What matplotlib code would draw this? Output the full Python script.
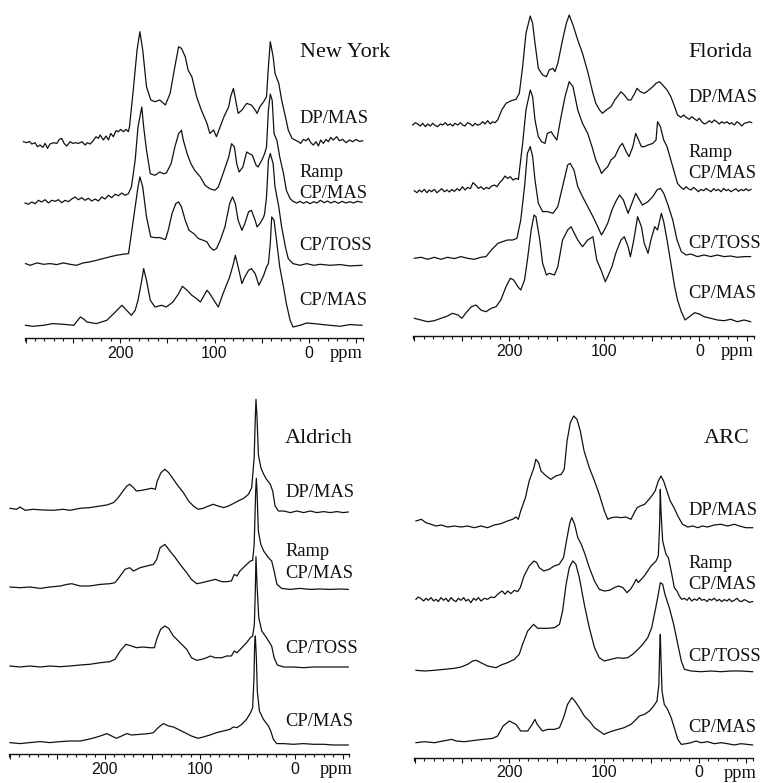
import matplotlib.pyplot as plt
from matplotlib.ticker import FixedLocator, FixedFormatter

# 13C NMR spectra of four humic acids, four pulse sequences each.
# Each trace: chemical shift (ppm) and height above its own baseline.

NY_DP_PPM = [302.3, 298.7, 295.9, 293.4, 289.9, 287.4, 284.6, 281.7, 279.3, 276.8, 274.1, 270.5, 267.0, 264.2, 261.7, 259.2,
             256.4, 252.9, 249.8, 247.4, 243.9, 240.4, 236.8, 234.6, 231.7, 228.9, 225.4, 222.9, 221.1, 217.6, 214.8, 212.3,
             209.8, 207.1, 204.3, 201.8, 199.3, 196.5, 193.6, 191.2,
             190, 186, 182, 179, 176, 172, 167.5, 163, 158, 152, 147, 142, 138, 135, 131, 128, 124, 119, 114, 108,
             105, 101, 98, 94, 90, 85, 83, 80, 78, 75, 71, 66, 61, 57, 55, 52, 48, 47, 45, 43, 41, 38, 36, 32, 29, 25, 22, 18,
             14.8, 11.3, 8.8, 6, 3.2, 0.7, -1.8, -4.6, -7.4, -9.9, -12.3, -15.2, -18, -20.5, -22.9, -25.7, -29.3, -32.1,
             -35.6, -39.2, -42.7, -46.2, -49.7, -53.3, -56.8]
NY_DP_INT = [0, -1, 0.3, -2.3, -1, -5, -3.3, -5.7, -1.7, -6.7, -2.3, -1, -1.7, 2.3, 3.3, -1.7,
             -4.3, 0, -1.7, -1, -1.7, 0, -3.3, -1, -2.3, 0.3, 5, 3.3, 6.7, 1.7, 5.7, 1.7,
             8.3, 5, 11, 10, 12.3, 10, 12.3, 10,
             15, 51.7, 91.7, 110, 91.7, 55, 41.7, 40, 41.7, 36.7, 48.3, 75, 95, 93.3, 85, 71.7, 65, 45, 31.7, 18.3,
             8.3, 11.7, 5, 15, 25, 35, 45, 53.3, 43.3, 28.3, 31.7, 38.3, 36.7, 31.7, 28.3, 35, 40, 41.7, 45, 75, 100, 85, 68.3,
             58.3, 41.7, 25, 11.7, 3.3,
             1.7, 0, -1.7, 2.3, 1, 3.3, -1, -3.3, 0, -4.3, 1.7, -1.7, 2.3, 0, 4.3, 1.7, 5, 1,
             2.3, -1, 1.7, 0, 2.3, 0.3, 1]

NY_RAMP_PPM = [300.5, 297, 293.4, 289.9, 286.4, 282.9, 279.3, 275.8, 272.3, 268.8, 265.2, 261.7, 258.2, 254.6, 251.1, 247.6,
               244.1, 240.5, 237, 233.5, 230, 226.4, 222.9, 219.4, 215.9, 212.3, 208.8, 205.3, 201.7, 198.2, 194.7, 191.2,
               188, 184, 181, 177, 175, 172, 168, 163, 158, 154, 151, 146, 142, 138, 135, 133, 129, 125, 121, 115,
               110, 105, 99.5, 96, 91, 85, 82, 79, 76.5, 74, 70, 66, 63, 60, 56, 54, 50, 47, 45, 43, 41, 39, 37, 34,
               31, 27, 24, 20, 17,
               13, 9.5, 6, 2.5, -1, -5, -8.5, -12, -16, -19.5, -23, -27, -31, -35, -39, -43, -47, -51, -56]
NY_RAMP_INT = [-1, -2.3, 0, -1.7, 1.7, 0, 2.3, -1, 1.7, 0.7, 2.3, -0.7, 1.7, 0.3, 3, 5,
               2.3, 4.3, 1.7, 3.7, 1, 3, 1, 5, 3, 6.7, 4.3, 7.7, 6.3, 9, 6.7, 8.3,
               15, 41.7, 75, 95, 75, 51.7, 28.3, 26.7, 30, 28.3, 29, 38.3, 55, 68.3, 71.7, 61.7, 48.3, 38.3, 31.7, 25,
               16.7, 13.3, 11.7, 15, 28.3, 45, 58.3, 55, 38.3, 30, 35, 50, 48.3, 46.7, 36.7, 35, 41.7, 48.3, 55, 91.7, 108,
               101.7, 68.3, 61.7, 45, 28.3, 11.7, 3.3, 0.7,
               -1, 0.7, -1.3, 0.3, -1.7, 0.3, -1, 1.7, -0.7, 1, -1, 0.7, -1.3, 0.7, -1, 0.3, -1, 0.7, -0.3]

NY_TOSS_PPM = [300, 295, 288, 281, 274, 267, 260, 253, 246, 239, 232, 225, 218, 211, 204, 197, 191, 188, 184, 181,
               179, 176, 172, 167.5, 163, 158, 152, 149, 145, 141, 138, 135, 131, 127, 122, 117, 112, 108, 105, 101,
               98, 94, 89, 84, 81, 78, 75, 71, 68, 64, 61, 57, 55, 52, 48, 47, 45, 43, 41, 38,
               36, 32, 29, 25, 22, 17, 9.5, 2.5, -5, -12, -22, -33, -43, -56]
NY_TOSS_INT = [0, -1.7, 0.7, -0.7, 0, -1, 0.7, -0.7, -1.7, 0.7, 1.7, 3.3, 5, 6.7, 8.3, 9.3, 10, 30, 56.7, 76.7,
               86.7, 76.7, 46.7, 26.7, 26, 26, 24, 33.3, 50, 60, 61.7, 56.7, 43.3, 33.3, 30, 25, 23.3, 21.7, 16.7, 13.3,
               15, 23.3, 36.7, 60, 66.7, 60, 43.3, 33.3, 40, 51.7, 53.3, 43.3, 36.7, 40, 46.7, 50, 66.7, 103.3, 110, 100,
               76.7, 56.7, 36.7, 16.7, 5, 0, -1.7, 0, -1.7, -0.7, -1.7, -1, -2.3, -1.7]

NY_CPMAS_PPM = [300, 292, 281, 271, 260, 249, 242, 239, 235, 225, 214, 205, 198, 193, 188, 184, 181, 177, 175, 172,
                168, 163, 156, 151, 144, 138, 134, 129, 124, 119, 115, 112, 108, 105, 99.5, 96, 91, 84, 80, 78,
                75, 71, 68, 64, 61, 57, 53, 48, 45, 43, 41, 39.5, 37, 34, 31, 27, 24, 20, 17, 9.5,
                2.5, -5, -12, -22, -33, -43, -56]
NY_CPMAS_INT = [0, -1, 0, 1.7, 1, 0, 8.3, 6.7, 3.3, 1.7, 5, 13.3, 20, 15, 10, 15, 25, 45, 56.7, 45,
                25, 18.3, 20, 18.3, 23.3, 31.7, 39, 35, 30, 26.7, 23.3, 28.3, 35, 31.7, 23.3, 18.3, 31.7, 48.3, 61.7, 70,
                58.3, 41.7, 48.3, 55, 56.7, 51.7, 40, 50, 58.3, 61.7, 81.7, 108.3, 105, 81.7, 58.3, 38.3, 21.7, 5, -1.7, 0,
                2.3, 1.7, 1, 0, -1, 0.7, 0]

FL_DP_PPM = [301.8, 299, 296.5, 293.7, 291.2, 288.4, 286, 283.2, 280.7, 278.3, 275.5, 272.6, 270.2, 267.4, 264.9, 262.1,
             259.7, 257.2, 254.4, 251.6, 249.1, 246.7, 243.9, 241.1, 238.6, 236.2, 233.3, 230.5, 228.1, 225.6, 222.8, 220,
             217.6, 215.1, 212.3,
             208, 203.5, 198, 193, 189.5, 186, 182.5, 178, 175.5, 173, 169.5, 165, 161, 158, 154, 152, 149, 144, 140, 137,
             133, 128, 123, 117.5, 112, 109, 105, 102, 98, 93, 89, 85, 82.5, 79, 75, 72, 68, 65.6, 62, 58,
             54, 49, 45.6, 42, 38.6, 34, 30, 26, 23,
             19.3, 16.5, 14, 10.5, 8.1, 5.3, 2.5, 0, -2.5, -5.3, -8.1, -10.5, -13, -15.8, -18.6, -21.1, -23.5, -26.3,
             -29.1, -31.6, -34, -36.8, -39.7, -42.1, -44.6, -47.4, -50.2, -52.6, -55.1]
FL_DP_INT = [-1, 1.3, 0, -2, 0.7, -2.7, 0, -2, 0.7, -1.3, -2.7, 0, -1, 1.3, -1.3, 0,
             -2, 0.7, -1, 1.3, -1, -2, 1.3, 0, -2, 0.7, -1.3, 0, 2.3, 0, 3.3, 0,
             2.3, 1.3, 4,
             14, 20.7, 23.3, 24.7, 30.7, 57.3, 90.7, 108, 100.7, 80.7, 55.7, 49, 47.3, 54, 55.7, 52.3, 60.7, 84, 100.7, 109,
             99, 84, 70.7, 52.3, 30.7, 20.7, 14, 10.7, 14, 17.3, 24, 29, 32.3, 29, 24, 24, 30.7, 35.7, 32.3, 30.7,
             33.3, 37.3, 40.7, 42.3, 39, 34, 27.3, 17.3, 9,
             6.7, 9, 6.7, 4.7, 7.3, 5.3, 3.3, 5.7, 2.3, 0, 1.3, 3.3, 1.3, 4, 2, 0, 2.3, 0.7,
             2.3, 0, 1.3, -1, 2.3, 0.7, -2, 0.7, 1.3, 2.3, 1.3]

FL_RAMP_PPM = [300, 297.2, 294.8, 292.4, 289.5, 286.7, 284.2, 281.8, 279, 276.2, 273.7, 271.2, 268.4, 265.6, 263.1, 260.6,
               257.9, 255, 252.3, 249.5, 246.7, 243.9, 241.1, 238.3, 235.5, 232.6, 229.8, 227, 224.2, 221.4, 218.6, 215.8,
               213, 210.2, 207.4, 204.6, 201.8, 199, 196.2, 193, 190.5,
               186, 182.5, 178, 175.5, 173, 169.5, 166, 162.5, 160, 156, 152.6, 150, 145.6, 141.4, 137, 133, 128, 123, 117.5, 113,
               109, 105, 103, 100, 96.5, 93, 89, 84, 81, 77, 74, 70, 67, 64, 61, 58, 54, 49, 45.6, 44, 41, 37.5, 34, 30, 26, 23,
               19.3, 16.5, 14, 11.6, 8.8, 6, 3.5, 1.1, -1.8, -4.6, -7, -9.5, -12.3, -15.1, -17.5, -20, -22.8, -25.6,
               -28.1, -30.5, -33.3, -36.1, -38.6, -41.1, -43.9, -46.7, -49.1, -51.6, -54.4]
FL_RAMP_INT = [0, -2, 0.7, -1.3, 1.3, -2, 0.7, -1, 1.3, -2, 0, 2, -1, 0.7, -1.3, 1.3,
               -0.7, 2, 0, 4, 0.7, 3.3, 2, 8, 5.7, 2.3, 4, 1.3, 3.3, 2, 4.7, 5.7,
               4, 8, 10.7, 14.7, 12.3, 14, 10.7, 12.3, 11.3,
               47.3, 80.7, 100.7, 94, 70.7, 54, 49, 47.3, 57.3, 59, 54, 50.7, 74, 94, 109, 104, 80.7, 67.3, 57.3, 44,
               30.7, 22.3, 17.3, 20.7, 24, 30.7, 34, 44, 47.3, 39, 34, 44, 57.3, 50.7, 44, 44, 45.7, 47.3, 50.7, 69, 64, 50.7,
               44, 30.7, 17.3, 7.3,
               3.3, 1.3, 4, 2, 0.7, 3.3, 1.3, -1, 1.3, 0, 2.3, 0.7, -1, 2, 0, 1.3, -1, 2.3,
               0, 1.3, -1, 0.7, 2, -0.7, 1.3, 0, 2, 0, 1.3]

FL_TOSS_PPM = [300, 293, 286, 279, 272, 265, 258, 251, 244, 237, 230, 224.6, 219, 212, 207, 202, 196.5, 192, 188, 184,
               181, 178, 175.5, 173, 169.5, 165, 160, 154, 149, 144, 138.6, 136, 132, 128, 123, 117.5, 112, 107, 103, 100,
               96.5, 92, 88, 84, 80, 75, 71, 67, 63, 60, 54, 49, 44.6, 41, 37.5, 33, 28, 23.5, 19, 14,
               9, 2, -5, -12, -19, -26, -33, -40, -47, -54]
FL_TOSS_INT = [0, 1, -1, 1, -1, 1, -0.3, 1.7, 0, -1, 1, 1.7, 8.3, 15, 16.7, 18.3, 18.3, 20, 38.3, 71.7,
               105, 111.7, 101.7, 78.3, 55, 46.7, 46.7, 45, 51.7, 71.7, 93.3, 95, 88.3, 71.7, 61.7, 51.7, 41.7, 31.7, 23.3, 28.3,
               35, 48.3, 56.7, 63.3, 58.3, 45, 55, 65, 58.3, 53.3, 56.7, 61.7, 68.3, 70, 65, 53.3, 38.3, 18.3, 6.7, 3.3,
               4.3, 1.7, 3.3, 1.7, 3.3, 1.7, 2.3, 1, 1.7, 1.7]

FL_CPMAS_PPM = [300, 293, 286, 279, 272, 265, 260, 254, 250, 246, 240, 235, 230, 224.6, 219, 214, 209, 203.5, 199, 195.5,
                191, 188, 184, 181, 177, 174, 172, 168, 165, 161, 158, 152.6, 149, 144, 138.6, 135, 131.6, 128, 123, 117.5,
                112, 108, 103.5, 99, 96.5, 92, 88, 82.5, 79, 75, 72.6, 69, 65, 61, 58, 54, 51, 47, 44, 40,
                37.5, 34, 30, 26, 23, 19, 15, 10.5, 5, 0, -5, -12, -19, -26, -33, -40, -47, -54]
FL_CPMAS_INT = [1.7, 0, -1.7, -0.7, 1.7, 4, 6.7, 5, 1.7, 6.7, 13.3, 15, 10, 8.3, 11.7, 13.3, 20, 33.3, 41.7, 40,
                33.3, 30, 40, 60, 90, 105, 103.3, 80, 56.7, 45, 46.7, 45, 53.3, 80, 90, 93.3, 86.7, 80, 73.3, 80,
                83.3, 60, 50, 38.3, 43.3, 53.3, 66.7, 80, 83.3, 73.3, 63.3, 80, 103.3, 93.3, 76.7, 66.7, 80, 93.3, 90, 106.7,
                98.3, 80, 56.7, 33.3, 20, 8.3, 0, 3.3, 7.3, 6, 3.3, 1.7, 0, -0.7, 0.7, -1.7, 0, -1.7]

AL_DP_PPM = [300, 293, 289.5, 284, 275.5, 265, 254, 244, 237, 226, 216, 205, 198, 191, 186, 181, 177, 174, 170, 167,
             161, 156, 151, 147, 145, 141, 137, 133, 128, 123, 117.5, 112, 107, 102, 96.5, 91, 86, 81, 75, 70,
             65, 60, 54, 49, 45.6, 43, 41.8, 41.1, 40, 38.6, 36, 33, 30, 26, 23.5, 21, 17.5, 12, 5, -2,
             -9, -16, -23, -30, -37, -44, -51, -56]
AL_DP_INT = [1, 0, 2.3, -1, 0, -0.7, -1, 0, -1, 1, 1.7, 3.3, 4.3, 6.7, 11.7, 18.3, 23.3, 25, 21.7, 18.3,
             19, 20, 21, 20, 28.3, 36.7, 40, 36.7, 30, 23.3, 16.7, 8.3, 3.3, 0, 1, 3.3, 5, 3.3, 1.7, 3.3,
             5.7, 8.3, 11, 15, 21.7, 51.7, 91.7, 110, 91.7, 55, 41.7, 35, 30, 25, 18.3, 3.3, -1.7, -1.7, -3.3, -1.7,
             -3.3, -1.7, -3.3, -2.3, -3.3, -2.3, -3.3, -2.7]

AL_RAMP_PPM = [300, 289.5, 279, 268, 258, 247, 240, 235, 226, 216, 205, 195, 189.5, 184, 179, 174, 170, 163, 156, 149,
               145.6, 142, 137, 131.6, 126, 121, 114, 109, 103.5, 98, 91, 84, 77, 72, 67, 64, 61, 58, 52.6, 47,
               44.6, 43, 41.4, 40.7, 40, 38.6, 36, 33, 28, 24.6, 22, 19, 14, 5, -5, -16, -26, -37, -47, -56]
AL_RAMP_INT = [0.7, 0, 0.7, -0.7, 0.7, 1.7, 3.3, 4, 1.7, 1.7, 3.3, 4, 5, 11.7, 18.3, 20, 16.7, 20, 21.7, 23.3,
               28.3, 40, 43.3, 36.7, 30, 23.3, 15, 8.3, 4, 5, 6.7, 8.3, 6, 6, 6.7, 13.3, 11.7, 16.7, 21.7, 26.7,
               27.3, 43.3, 96.7, 109.3, 96.7, 56.7, 43.3, 36.7, 30, 26.7, 16.7, 3.3, -0.7, -1.7, -0.7, -1.7, -1.3, -1.7, -1.3, -1.7]

AL_TOSS_PPM = [300, 289.5, 279, 268, 258, 247, 237, 226, 216, 205, 195, 189.5, 184, 178, 172, 167, 160, 153, 148, 145.6,
               141.4, 137, 133, 128, 121, 114, 109, 103.5, 98, 93, 89, 84, 77, 72, 67, 64, 61, 56, 51, 47,
               44.6, 42.8, 41.8, 41.1, 40, 38.2, 35, 30, 24.6, 22, 18.6, 12, 2, -9, -19, -30, -40, -56]
AL_TOSS_INT = [0, -1, 0, -1, 0, -0.7, 0, 1, 1.7, 3.3, 4.3, 6.7, 15, 21.7, 20, 18.3, 19, 18.3, 18.3, 26.7,
               36.7, 40, 37.7, 30, 23.3, 16.7, 8.3, 5.7, 6.7, 8.3, 10, 8.3, 8.3, 10, 10, 15, 13.3, 18.3, 23.3, 28.3,
               30, 41.7, 75, 109.3, 81.7, 48.3, 35, 28.3, 20, 8.3, 1, -1, -1, -1.7, -1, -1, -1, -1]

AL_CPMAS_PPM = [300, 289.5, 279, 268, 258, 247, 237, 226, 217.5, 210.5, 205, 198, 193, 188, 182.5, 177, 172, 163, 154, 149,
                144, 138.6, 133, 128, 123, 116, 109, 102, 96.5, 89.5, 82.5, 75.4, 68.4, 65, 61, 56, 51, 46.7, 44.6, 43.2,
                42.5, 41.8, 40.7, 39.7, 37.5, 33.3, 28, 25.6, 22.8, 19.3, 12.3, 1.8, -8.8, -19.3, -30, -40, -56]
AL_CPMAS_INT = [1.7, 0.7, 1.7, 2.7, 1.7, 2.7, 3.3, 3.3, 5, 6.7, 8.3, 10.7, 8.3, 6, 8.3, 10.7, 9.3, 10, 10.7, 11.7,
                16.7, 20.7, 18.3, 17.3, 15, 11.7, 8.3, 6, 7.3, 9.3, 11.7, 13.3, 15, 17.3, 16.7, 20, 25, 31.7, 36.7, 66.7,
                100, 108.3, 86.7, 53.3, 33.3, 25, 18.3, 13.3, 5, 0.7, 0.7, 0, 0.7, 0, 0, -0.7, -0.7]

ARC_DP_PPM = [298.6, 293, 288, 282.7, 277.5, 272, 265, 258, 251, 244, 237, 230, 223, 216, 209, 202, 196.5, 193, 190.5, 188,
              183, 179, 174, 172, 169, 166.5, 161, 156, 151, 145, 142, 139, 135.6, 132, 128.5, 125, 121, 115.5, 110, 105,
              99.6, 96, 92, 87, 82, 77, 71.5, 68, 65, 61.6, 57, 54, 49.6, 46, 42.6, 39.8, 37, 33.5, 30, 26,
              22, 17, 11.6, 6, 1, -4, -9.5, -16.5, -23.6, -30.6, -37.7, -43, -50, -57]
ARC_DP_INT = [5, 6.7, 3.3, 1.7, 0, 1, -1, 0, -1, 0, -1.7, 0, -1.7, 1, 2.3, 5, 6.7, 9, 6.7, 15,
              28.3, 45, 58.3, 66.7, 63.3, 55, 50, 46.7, 50, 51.7, 56.7, 85, 103.3, 110, 106.7, 95, 75, 58.3, 45, 31.7,
              15, 6.7, 8.3, 9, 8.3, 9, 6.7, 13.3, 18.3, 20, 21.7, 25, 30, 35, 45, 50, 45, 35, 25, 18.3,
              10, 1.7, -1, 0, -1.7, 0, -1, 1, 1.7, 0, 1.7, 0, -1.7, -1.7]

ARC_RAMP_PPM = [298.6, 296.3, 293.8, 290.5, 288, 285.6, 282.7, 279.9, 277.5, 275, 272.2, 269.4, 266.9, 264.4, 261.6, 258.8,
                256.3, 253.9, 251.1, 248.2, 245.8, 243.3, 240.5, 237.7, 235.2, 232.7, 229.9, 226.4, 222.9, 219.4, 215.8, 213,
                210.2, 207.4, 204.6, 201.8, 198.3, 194.7, 191.2, 188.4,
                184.5, 179, 174, 171, 168.5, 163.6, 158, 152.6, 147.3, 142.7, 139, 136, 134, 131, 127.7, 124, 120, 115.5, 110, 105,
                99.6, 94.3, 89, 84.8, 80, 75.7, 72, 68.7, 66, 63.7, 57.4, 50.3, 45, 42.6, 41.2, 40.5, 39.8, 38, 34.5, 32,
                29, 25.7,
                22.9, 20.4, 18, 15.1, 12.3, 9.9, 7.4, 4.6, 1.8, -0.7, -3.2, -6, -8.8, -11.3, -13.7, -16.5, -19.4, -21.8,
                -24.3, -27.1, -29.9, -32.4, -34.9, -37.7, -40.5, -43, -45.4, -48.2, -51.1, -53.5, -57]
ARC_RAMP_INT = [0, 2.3, 1, -1.7, 1, -1, 1.7, -1.7, 0, -2.3, 1.7, -1, 1, -2.3, 1.7, -1,
                -2.3, 1, -1, 1.7, -1.7, 0, -3.3, 1, -1, 1.7, -1.7, 1, 0, 2.3, 1.7, 4.3,
                6.7, 8.3, 5, 8.3, 5.7, 9, 7.7, 11.7,
                23.3, 33.3, 38.3, 36.7, 31.7, 28.3, 30, 33.3, 35, 41.7, 61.7, 76.7, 81.7, 75, 61.7, 55, 45, 31.7, 18.3, 10,
                8.3, 9, 11.7, 13.3, 11.7, 6.7, 10, 15, 20, 16.7, 23.3, 33.3, 38.3, 43.3, 75, 110, 88.3, 58.3, 45, 41.7,
                28.3, 11.7,
                8.3, 3.3, 0, 1, -1, 1.7, -1.7, 0.3, -1, 1.7, -1, 0, -2.3, 0.3, -1, 1, -1.7, 0,
                -2.3, -0.3, -1.7, 0.3, -2.3, -1, 1, -1.7, -2.3, -0.3, -1.7, -3, -2.3]

ARC_TOSS_PPM = [298.6, 289.6, 279, 268.6, 258, 251, 244, 238.7, 235, 230, 223, 214, 208.8, 201.8, 194.7, 189.5, 186, 180.6, 174.3, 170,
                164.9, 159.5, 152.4, 147, 143.7, 140, 136.7, 133, 129.7, 126, 120.8, 115.5, 110, 105, 99.6, 92.6, 85.5, 80, 75, 69.6,
                64, 59, 53.8, 49.6, 46, 43.3, 40.5, 38, 35.6, 31, 26.4, 22, 18.3, 15, 8, -2.5, -13, -23.6, -34, -44.7, -57]
ARC_TOSS_INT = [0.7, 0, 0.7, 1.7, 2.7, 4, 6.7, 10, 10.7, 8.3, 5, 3.3, 6, 8.3, 11.7, 16.7, 26.7, 40, 46.7, 42.7,
                42.7, 42.7, 43.3, 46.7, 60, 86.7, 103.3, 110, 106.7, 93.3, 66.7, 43.3, 23.3, 13.3, 10, 11.7, 13.3, 12.7, 13.3, 16.7,
                21.7, 26.7, 33.3, 43.3, 60, 73.3, 88.3, 86.7, 76.7, 63.3, 46.7, 26.7, 10, 1.7, 0, -0.7, 0, -0.7, 0, 0, -0.7]

ARC_CPMAS_PPM = [298.6, 289.6, 279, 270, 261, 256, 247.7, 237, 228, 217.7, 212.4, 206.5, 200, 193, 188, 180.6, 175.8, 173, 170.5, 165,
                 159.5, 152.4, 147, 142.7, 138.5, 134, 130.8, 126, 120.8, 115.5, 110, 105, 100, 96, 91, 85.1, 78.8, 71.5, 66, 62.7,
                 57.4, 52, 47.5, 44, 42, 41.2, 40.5, 39.8, 38.7, 36.3, 32.8, 29, 25.7, 22, 18.3, 13.4, 8, 2.8, -2.5, -9.5,
                 -16.5, -23.6, -30.6, -37.7, -44.7, -51.7, -57]
ARC_CPMAS_INT = [0, 1, 0, 1.7, 3.3, 1.7, 1, 2.3, 3.3, 4.3, 6.7, 16.7, 21.7, 18.3, 11.7, 11.7, 18.3, 23.3, 18.3, 11.7,
                 13.3, 13.3, 15, 25, 38.3, 45, 41.7, 35, 26.7, 21.7, 15, 11.7, 8.3, 10, 11.7, 13.3, 15, 18.3, 23.3, 26.7,
                 28.3, 31.7, 36.7, 41.7, 58.3, 91.7, 108.3, 85, 51.7, 38.3, 33.3, 25, 15, 3.3, -1.7, -1, 0, 1.7, 0, 1,
                 -1, 0, -1, -2.3, -1, -1.7, -2.3]

SAMPLES = ['New York', 'Florida', 'Aldrich', 'ARC']
SEQUENCES = ['DP/MAS', 'Ramp\nCP/MAS', 'CP/TOSS', 'CP/MAS']
TICK_LABELS = {200: '200', 100: '100', 0: '0'}
PPM_LEFT, PPM_RIGHT = 301, -57

TRACES = {
    'New York': [(NY_DP_PPM, NY_DP_INT), (NY_RAMP_PPM, NY_RAMP_INT), (NY_TOSS_PPM, NY_TOSS_INT), (NY_CPMAS_PPM, NY_CPMAS_INT)],
    'Florida': [(FL_DP_PPM, FL_DP_INT), (FL_RAMP_PPM, FL_RAMP_INT), (FL_TOSS_PPM, FL_TOSS_INT), (FL_CPMAS_PPM, FL_CPMAS_INT)],
    'Aldrich': [(AL_DP_PPM, AL_DP_INT), (AL_RAMP_PPM, AL_RAMP_INT), (AL_TOSS_PPM, AL_TOSS_INT), (AL_CPMAS_PPM, AL_CPMAS_INT)],
    'ARC': [(ARC_DP_PPM, ARC_DP_INT), (ARC_RAMP_PPM, ARC_RAMP_INT), (ARC_TOSS_PPM, ARC_TOSS_INT), (ARC_CPMAS_PPM, ARC_CPMAS_INT)],
}

W, H = 762, 783
SERIF = ['Liberation Serif', 'DejaVu Serif']
NARROW = ['Liberation Sans Narrow', 'Liberation Sans', 'DejaVu Sans']

# panel layout in pixels: axis x-extent, ruler line y, top, baseline offsets,
# title pos, label x, label baselines, 'ppm' pos
LAYOUT = {
    'New York': dict(x0=24.6, x1=362.9, yaxis=338.3, top=5, offs=[196.6, 136.3, 74.7, 13.0],
                     title=(300, 57), lx=299, ly=[122.7, 198.3, 250, 305], ppm=(330, 358)),
    'Florida': dict(x0=413.4, x1=753.5, yaxis=336, top=5, offs=[212, 145.3, 77.7, 16],
                    title=(688, 57), lx=688, ly=[101.7, 178.3, 248.3, 297.7], ppm=(721, 356)),
    'Aldrich': dict(x0=9.0, x1=349.2, yaxis=754.3, top=392, offs=[245, 166.6, 88.3, 10],
                    title=(285, 442.7), lx=285, ly=[497, 577.7, 652.7, 726], ppm=(320, 774)),
    'ARC': dict(x0=413.7, x1=752.6, yaxis=757.7, top=392, offs=[231.7, 158.4, 86.7, 15],
                title=(704, 442.7), lx=688, ly=[515, 589.3, 661, 731.7], ppm=(724, 778)),
}

fig = plt.figure(figsize=(W / 100, H / 100), dpi=100)


def ftext(x, y, s, size, va='baseline'):
    fig.text(x / W, 1 - y / H, s, fontsize=size, family=SERIF, ha='left', va=va, color='#111111')


for name in SAMPLES:
    L = LAYOUT[name]
    ax = fig.add_axes([L['x0'] / W, 1 - L['yaxis'] / H, (L['x1'] - L['x0']) / W, (L['yaxis'] - L['top']) / H])
    ax.set_xlim(PPM_LEFT, PPM_RIGHT)
    ax.set_ylim(0, L['yaxis'] - L['top'])
    ax.patch.set_visible(False)
    for s in ('top', 'left', 'right'):
        ax.spines[s].set_visible(False)
    ax.spines['bottom'].set_linewidth(1.0)
    ax.spines['bottom'].set_color('#111111')
    ax.set_yticks([])

    majors = list(range(300, -51, -50))
    ax.xaxis.set_major_locator(FixedLocator(majors))
    ax.xaxis.set_major_formatter(FixedFormatter([TICK_LABELS.get(m, '') for m in majors]))
    minors = [m for m in range(290, -51, -10) if m % 50] + [PPM_LEFT, PPM_RIGHT]
    ax.xaxis.set_minor_locator(FixedLocator(minors))
    ax.tick_params(axis='x', which='major', direction='out', length=3.6, width=0.8, pad=1.8,
                   labelsize=11.5, colors='#111111')
    ax.tick_params(axis='x', which='minor', direction='out', length=2.2, width=0.8, colors='#111111')
    for lab in ax.get_xticklabels():
        lab.set_family(NARROW)

    for (ppm, inten), off in zip(TRACES[name], L['offs']):
        n = min(len(ppm), len(inten))
        ax.plot(ppm[:n], [v + off for v in inten[:n]], color='#111111', lw=0.9,
                solid_joinstyle='round', clip_on=False)

    ftext(L['title'][0], L['title'][1], name, 16)
    for seq, y in zip(SEQUENCES, L['ly']):
        if '\n' in seq:
            top, bot = seq.split('\n')
            ftext(L['lx'], y - 21.5, top, 13.3)
            ftext(L['lx'], y, bot, 13.3)
        else:
            ftext(L['lx'], y, seq, 13.3)
    ftext(L['ppm'][0], L['ppm'][1], 'ppm', 13.3)

fig.savefig('out.png', dpi=100, facecolor='white')
